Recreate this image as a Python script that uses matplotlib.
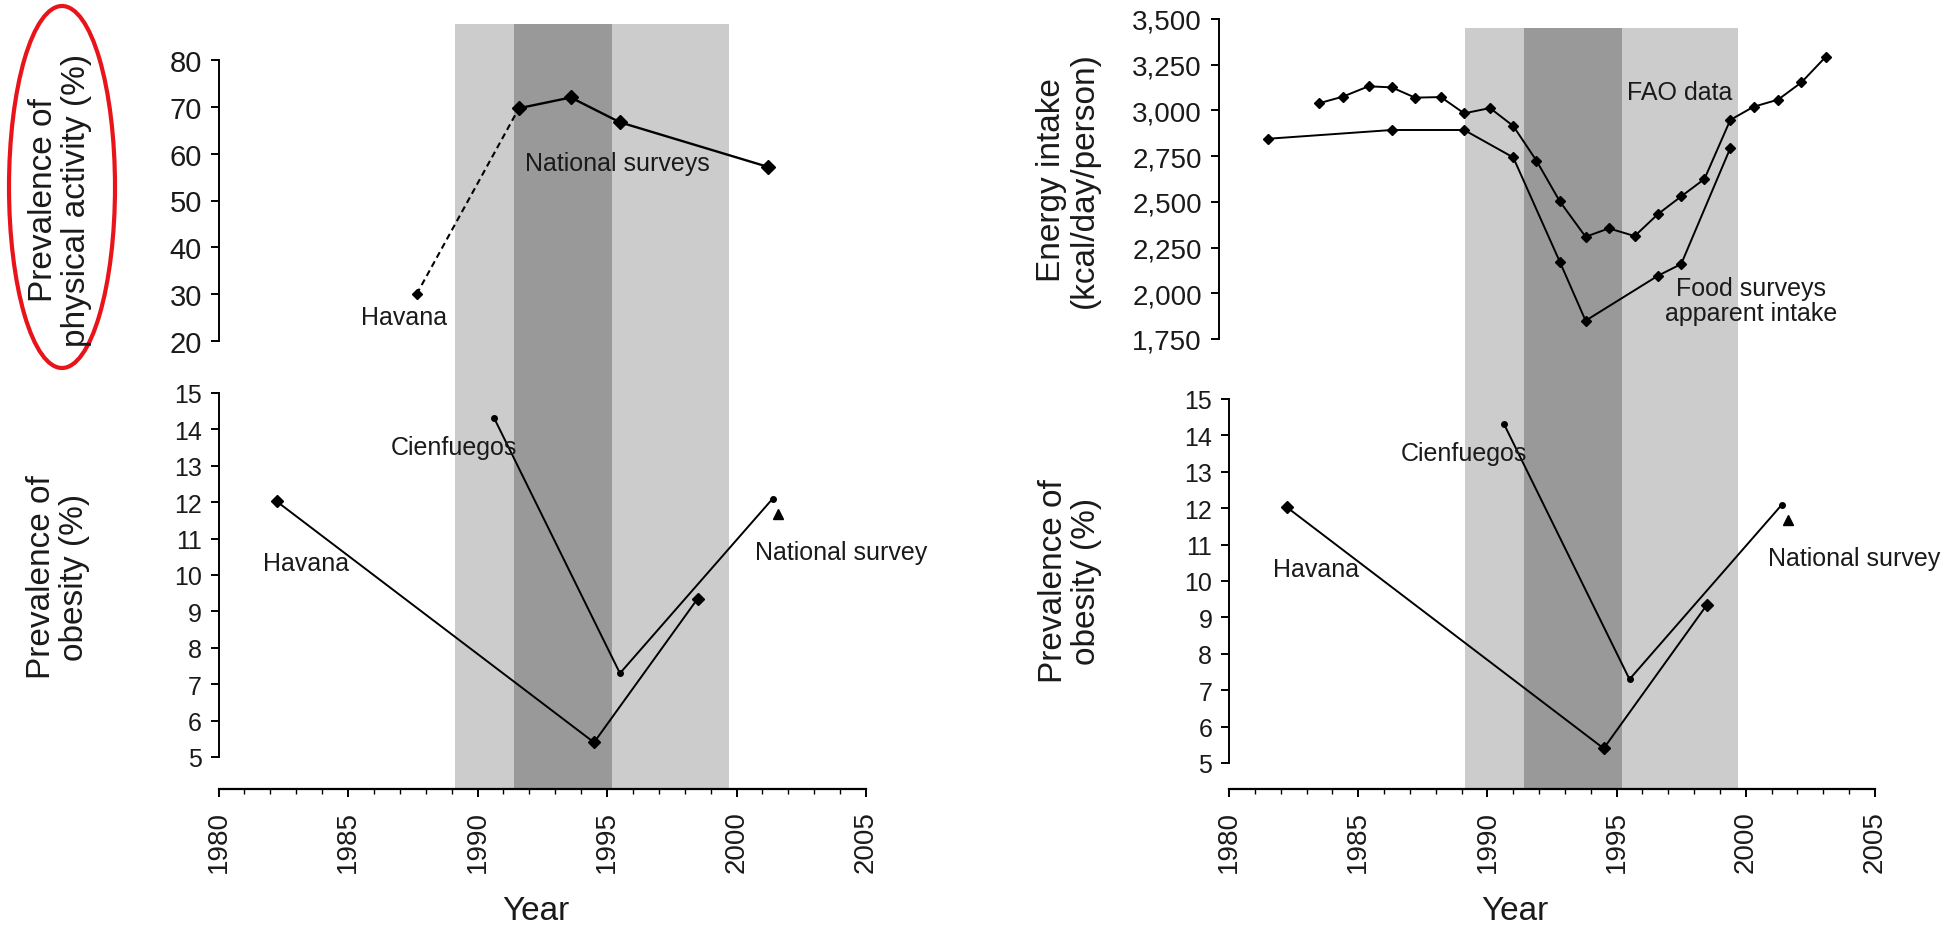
import numpy as np
import matplotlib
matplotlib.use("Agg")
import matplotlib.pyplot as plt
from matplotlib.patches import Ellipse

plt.rcParams['font.family'] = ['Liberation Sans', 'DejaVu Sans']

W, H = 1959, 929

# crisis periods (light = whole special period, dark = worst years)
light_band = (1989.15, 1999.7)
dark_band = (1991.4, 1995.2)

# physical activity (%)
pa_havana_years = [1987.65, 1991.6]
pa_havana = [30.0, 69.7]
pa_nat_years = [1991.6, 1993.6, 1995.5, 2001.2]
pa_nat = [69.7, 72.0, 66.7, 57.2]

# obesity (%)
ob_havana_years = [1982.25, 1994.5, 1998.5]
ob_havana = [12.02, 5.4, 9.35]
ob_cien_years = [1990.65, 1995.5, 2001.4]
ob_cien = [14.3, 7.3, 12.1]
ob_nat_years = [2001.62]
ob_nat = [11.67]

# energy intake (kcal/day/person)
fao_years = [1983.5, 1984.4, 1985.4, 1986.3, 1987.2, 1988.2, 1989.1, 1990.1,
             1991.0, 1991.9, 1992.8, 1993.8, 1994.7, 1995.7, 1996.6, 1997.5,
             1998.4, 1999.4, 2000.3, 2001.25, 2002.15, 2003.1]
fao_kcal = [3040, 3075, 3132, 3126, 3070, 3073, 2984, 3013,
            2915, 2725, 2503, 2309, 2355, 2313, 2433, 2530,
            2625, 2948, 3020, 3059, 3153, 3294]
food_years = [1981.5, 1986.3, 1989.1, 1991.0, 1992.8, 1993.8, 1996.6, 1997.5, 1999.4]
food_kcal = [2845, 2893, 2893, 2743, 2173, 1850, 2096, 2160, 2794]

year_ticks = [1980, 1985, 1990, 1995, 2000, 2005]
pa_ticks = [20, 30, 40, 50, 60, 70, 80]
ob_ticks = [5, 6, 7, 8, 9, 10, 11, 12, 13, 14, 15]
kcal_ticks = [1750, 2000, 2250, 2500, 2750, 3000, 3250, 3500]

TXT = '#1a1a1a'


def box(x0, y0, x1, y1):
    return [x0 / W, 1 - y1 / H, (x1 - x0) / W, (y1 - y0) / H]


fig = plt.figure(figsize=(W / 100, H / 100), dpi=100)


def base_axes(x0, x1, ytop):
    ax = fig.add_axes(box(x0, ytop, x1, 790))
    ax.set_xlim(1980, 2005)
    ax.set_ylim(0, 1)
    ax.axvspan(*light_band, color='#cccccc', lw=0)
    ax.axvspan(*dark_band, color='#999999', lw=0)
    for s in ['left', 'right', 'top']:
        ax.spines[s].set_visible(False)
    ax.spines['bottom'].set_linewidth(1.6)
    ax.set_yticks([])
    ax.set_xticks(year_ticks)
    ax.set_xticks(np.arange(1980, 2006, 1), minor=True)
    ax.tick_params(axis='x', which='major', length=6, width=1.4, pad=9,
                   labelsize=20, labelrotation=90, labelcolor=TXT)
    ax.tick_params(axis='x', which='minor', length=3.5, width=1.0)
    ax.patch.set_alpha(0)
    return ax


def overlay(x0, x1, y0, y1, ylim, ticks, size, labels=None, spine_at=None):
    ax = fig.add_axes(box(x0, y0, x1, y1))
    ax.set_xlim(1980, 2005)
    ax.set_ylim(*ylim)
    ax.patch.set_alpha(0)
    for s in ['bottom', 'right', 'top']:
        ax.spines[s].set_visible(False)
    ax.spines['left'].set_linewidth(1.4)
    if spine_at is not None:
        ax.spines['left'].set_position(('data', spine_at))
    ax.set_xticks([])
    ax.set_yticks(ticks)
    if labels is not None:
        ax.set_yticklabels(labels)
    ax.tick_params(axis='y', length=6, width=1.4, pad=6, labelsize=size,
                   labelcolor=TXT)
    return ax


def obesity_panel(ax, nat_x):
    ax.plot(ob_havana_years, ob_havana, color='black', lw=1.4,
            marker='D', ms=6, zorder=3)
    ax.plot(ob_cien_years, ob_cien, color='black', lw=1.4,
            marker='o', ms=4, zorder=3)
    ax.plot(ob_nat_years, ob_nat, ls='none', color='black',
            marker='^', ms=7, zorder=3)
    ax.text(1981.7, 10.33, 'Havana', fontsize=18, va='center', color=TXT)
    ax.text(1986.65, 13.52, 'Cienfuegos', fontsize=18, va='center', color=TXT)
    ax.text(nat_x, 10.63, 'National survey', fontsize=18, va='center', color=TXT)


# left column
base_axes(218.5, 866, 25)

ax_pa = overlay(218.5, 866, 61, 342, (20, 80), pa_ticks, 21)
ax_pa.plot(pa_havana_years, pa_havana, color='black', lw=1.5, ls=(0, (3, 2)))
ax_pa.plot(pa_nat_years, pa_nat, color='black', lw=1.7, marker='D', ms=7)
ax_pa.plot(pa_havana_years[:1], pa_havana[:1], ls='none', color='black',
           marker='D', ms=5.5)
ax_pa.text(1985.5, 25.1, 'Havana', fontsize=18, va='center', color=TXT)
ax_pa.text(1991.85, 58.1, 'National surveys', fontsize=18, va='center', color=TXT)

ax_ob1 = overlay(218.5, 866, 394, 758, (5, 15), ob_ticks, 18)
obesity_panel(ax_ob1, 2000.7)

# right column
base_axes(1229, 1875, 29)

ax_kc = overlay(1229, 1875, 20, 340, (1750, 3500), kcal_ticks, 20,
                labels=[f'{v:,}' for v in kcal_ticks], spine_at=1979.6)
ax_kc.plot(fao_years, fao_kcal, color='black', lw=1.4, marker='D', ms=5.5)
ax_kc.plot(food_years, food_kcal, color='black', lw=1.4, marker='D', ms=5.5)
ax_kc.text(1995.4, 3100, 'FAO data', fontsize=18, va='center', color=TXT)
ax_kc.text(2000.2, 1959, 'Food surveys\napparent intake', fontsize=18,
           va='center', ha='center', multialignment='center', color=TXT,
           linespacing=1.05)

ax_ob2 = overlay(1229, 1875, 400, 764, (5, 15), ob_ticks, 18)
obesity_panel(ax_ob2, 2000.85)

# axis titles
ylab = dict(rotation=90, ha='center', va='center', fontsize=24,
            multialignment='center', color=TXT, linespacing=1.1)
fig.text(60 / W, 1 - 200 / H, 'Prevalence of\nphysical activity (%)', **ylab)
fig.text(58 / W, 1 - 577 / H, 'Prevalence of\nobesity (%)', **ylab)
fig.text(1068 / W, 1 - 180 / H, 'Energy intake\n(kcal/day/person)', **ylab)
fig.text(1070 / W, 1 - 581 / H, 'Prevalence of\nobesity (%)', **ylab)
fig.text(536 / W, 1 - 912 / H, 'Year', fontsize=24, ha='center', va='center',
         color=TXT)
fig.text(1515 / W, 1 - 912 / H, 'Year', fontsize=24, ha='center', va='center',
         color=TXT)

# red highlight round the first axis title
fig.add_artist(Ellipse((62 / W, 1 - 188 / H), 106 / W, 362 / H,
                       transform=fig.transFigure, fill=False,
                       edgecolor='#e8141a', lw=3))

fig.savefig('out.png', dpi=100)
